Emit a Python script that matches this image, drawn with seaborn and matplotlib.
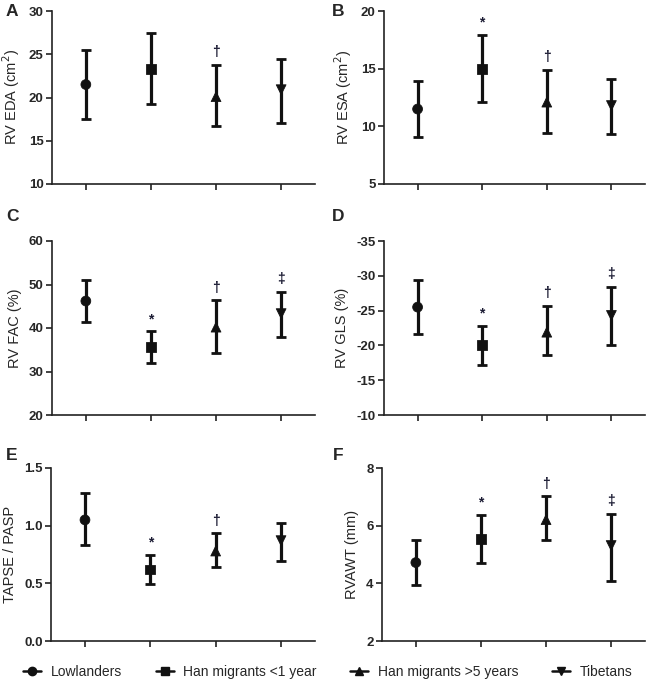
import numpy as np
import pandas as pd
import matplotlib
matplotlib.use("Agg")
import matplotlib.pyplot as plt
from matplotlib.lines import Line2D
import seaborn as sns

# groups and markers
groups = ['Lowlanders', 'Han migrants <1 year', 'Han migrants >5 years', 'Tibetans']
markers = ['o', 's', '^', 'v']

# A - RV EDA
eda_mean = [21.5, 23.3, 20.1, 20.9]
eda_lo = [17.5, 19.3, 16.7, 17.0]
eda_hi = [25.5, 27.4, 23.8, 24.4]
eda_sig = ['', '', '†', '']

# B - RV ESA
esa_mean = [11.5, 15.0, 12.1, 11.8]
esa_lo = [9.1, 12.1, 9.4, 9.3]
esa_hi = [13.9, 17.9, 14.9, 14.1]
esa_sig = ['', '*', '†', '']

# C - RV FAC
fac_mean = [46.2, 35.6, 40.2, 43.3]
fac_lo = [41.3, 31.9, 34.3, 37.9]
fac_hi = [51.1, 39.2, 46.4, 48.3]
fac_sig = ['', '*', '†', '‡']

# D - RV GLS (inverted axis)
gls_mean = [-25.5, -20.0, -21.9, -24.3]
gls_lo = [-29.4, -22.8, -25.7, -28.4]
gls_hi = [-21.6, -17.2, -18.6, -20.0]
gls_sig = ['', '*', '†', '‡']

# E - TAPSE / PASP
tp_mean = [1.05, 0.62, 0.78, 0.87]
tp_lo = [0.83, 0.49, 0.645, 0.69]
tp_hi = [1.285, 0.75, 0.935, 1.02]
tp_sig = ['', '*', '†', '']

# F - RVAWT
awt_mean = [4.72, 5.54, 6.21, 5.31]
awt_lo = [3.95, 4.71, 5.50, 4.08]
awt_hi = [5.52, 6.38, 7.02, 6.42]
awt_sig = ['', '*', '†', '‡']

sns.set_style('ticks')
plt.rcParams['font.family'] = ['Liberation Sans', 'DejaVu Sans']
plt.rcParams['axes.unicode_minus'] = False

W, H = 649, 682
fig = plt.figure(figsize=(W / 100, H / 100), dpi=100)


def px_axes(left, top, right, bottom):
    return fig.add_axes([left / W, 1 - bottom / H, (right - left) / W, (bottom - top) / H])


def panel(ax, letter, lpos, ylabel, mean, lo, hi, sig, ylim, yticks, ticklabels=None, invert=False):
    df = pd.DataFrame({'group': groups, 'mean': mean, 'lo': lo, 'hi': hi})
    x = np.arange(len(groups))
    err = [np.array(mean) - np.array(lo), np.array(hi) - np.array(mean)]
    ax.errorbar(x, df['mean'], yerr=err, fmt='none', ecolor='#111111',
                elinewidth=2.3, capsize=3.5, capthick=2.0, zorder=2)
    sns.scatterplot(data=df, x='group', y='mean', style='group', markers=markers,
                    color='#111111', s=50, edgecolor='#111111', legend=False, ax=ax, zorder=3)
    for i, s in enumerate(sig):
        if s:
            anchor = lo[i] if invert else hi[i]
            ax.annotate(s, (x[i], anchor), xytext=(0, 9), textcoords='offset points',
                        ha='center', va='center', fontsize=10, fontweight='bold', color='#1c1c34')
    ax.set_xlim(-0.52, 3.52)
    ax.set_ylim(*ylim)
    if invert:
        ax.invert_yaxis()
    ax.set_yticks(yticks)
    if ticklabels is not None:
        ax.set_yticklabels(ticklabels)
    ax.set_xticks(x)
    ax.set_xticklabels([])
    ax.set_xlabel('')
    ax.set_ylabel(ylabel, fontsize=10.5, labelpad=5)
    ax.tick_params(axis='y', labelsize=9.5, width=1.2, length=4, color='#222222', pad=2)
    for lab in ax.get_yticklabels():
        lab.set_fontweight('bold')
    ax.tick_params(axis='x', width=1.2, length=4, color='#222222')
    sns.despine(ax=ax)
    for sp in ['left', 'bottom']:
        ax.spines[sp].set_linewidth(1.2)
        ax.spines[sp].set_color('#222222')
    fig.text(lpos[0] / W, 1 - lpos[1] / H, letter, fontsize=12.5, fontweight='bold',
             ha='center', va='center')


axA = px_axes(52, 11, 315, 184)
panel(axA, 'A', (12, 12), 'RV EDA (cm$^2$)', eda_mean, eda_lo, eda_hi, eda_sig,
      (10, 30), [10, 15, 20, 25, 30])
axB = px_axes(384, 11, 645, 184)
panel(axB, 'B', (338, 12), 'RV ESA (cm$^2$)', esa_mean, esa_lo, esa_hi, esa_sig,
      (5, 20), [5, 10, 15, 20])
axC = px_axes(52, 241, 315, 415)
panel(axC, 'C', (12, 217), 'RV FAC (%)', fac_mean, fac_lo, fac_hi, fac_sig,
      (20, 60), [20, 30, 40, 50, 60])
axD = px_axes(384, 241, 645, 415)
panel(axD, 'D', (338, 217), 'RV GLS (%)', gls_mean, gls_lo, gls_hi, gls_sig,
      (-35, -10), [-35, -30, -25, -20, -15, -10], invert=True)
axE = px_axes(51, 468, 315, 641)
panel(axE, 'E', (12, 455), 'TAPSE / PASP', tp_mean, tp_lo, tp_hi, tp_sig,
      (0, 1.5), [0, 0.5, 1.0, 1.5], ['0.0', '0.5', '1.0', '1.5'])
axF = px_axes(382, 468, 645, 641)
panel(axF, 'F', (338, 455), 'RVAWT (mm)', awt_mean, awt_lo, awt_hi, awt_sig,
      (2, 8), [2, 4, 6, 8])

# shared legend
handles = [Line2D([0], [0], marker=m, color='#111111', lw=1.8, markersize=6) for m in markers]
fig.legend(handles, groups, loc='center', bbox_to_anchor=(0.505, 1 - 672 / H), ncol=4,
           frameon=False, fontsize=10, handlelength=1.3, columnspacing=2.4, handletextpad=0.7)

fig.savefig('out.png', dpi=100)
